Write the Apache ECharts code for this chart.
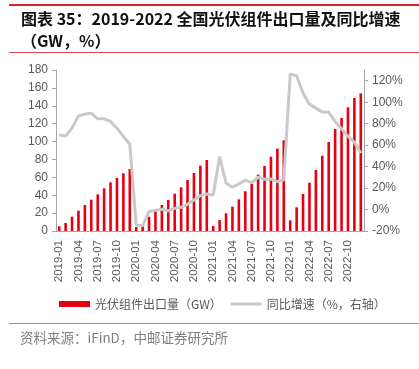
<!DOCTYPE html>
<html><head><meta charset="utf-8">
<script src="https://cdn.jsdelivr.net/npm/echarts@6/dist/echarts.min.js"></script>
<style>html,body{margin:0;padding:0;background:#fff}#c{width:419px;height:369px}</style>
</head><body><div id="c"></div>
<script>
const months = [];
for (const y of [2019, 2020, 2021, 2022]) for (let m = 1; m <= 12; m++) months.push(y + '-' + String(m).padStart(2, '0'));

const exportGW = [
  5.2, 8.9, 16.0, 22.7, 29.1, 35.0, 41.0, 47.7, 54.4, 59.3, 64.5, 69.3,
  4.5, 6.5, 16.0, 22.4, 29.1, 34.7, 41.7, 48.8, 57.0, 64.9, 73.1, 79.4,
  5.6, 12.3, 19.8, 27.2, 35.4, 44.4, 52.6, 63.0, 72.7, 83.1, 92.1, 101.4,
  11.9, 26.5, 41.4, 54.0, 68.2, 84.2, 99.5, 114.0, 126.3, 138.3, 148.7, 153.9
];
const yoyPct = [
  69.6, 68.4, 75.8, 87.3, 88.9, 89.8, 84.5, 84.5, 82.1, 75.8, 68.1, 60.9,
  -14.4, -15.0, -2.0, -0.7, 0.2, -1.3, 1.2, 2.1, 4.9, 8.9, 13.0, 14.5,
  13.6, 49.4, 24.5, 20.8, 23.9, 27.3, 25.1, 30.1, 28.2, 28.5, 26.0, 27.6,
  126.2, 124.7, 108.5, 98.2, 94.5, 90.8, 90.8, 82.1, 75.2, 68.1, 62.8, 52.5
];

const titleLine1 = '图表 35：2019-2022 全国光伏组件出口量及同比增速';
const titleLine2 = '（GW，%）';
const sourceText = '资料来源：iFinD，中邮证券研究所';
const barName = '光伏组件出口量（GW）';
const lineName = '同比增速（%，右轴）';

const axisGrey = '#a6a6a6';
const labelGrey = '#595959';
const chart = echarts.init(document.getElementById('c'), null, {renderer: 'canvas'});
chart.setOption({
  animation: false,
  textStyle: {fontFamily: 'Liberation Sans, Arial, Noto Sans CJK SC, sans-serif'},
  graphic: [
    {type: 'rect', shape: {x: 9, y: 4, width: 410, height: 2}, style: {fill: '#d9252a'}},
    {type: 'text', left: 21, top: 11, style: {text: titleLine1, font: 'bold 16px "Noto Sans CJK SC"', fill: '#111'}},
    {type: 'text', left: 21, top: 33, style: {text: titleLine2, font: 'bold 16px "Noto Sans CJK SC"', fill: '#111'}},
    {type: 'rect', shape: {x: 9, y: 52, width: 410, height: 1}, style: {fill: '#d9454a'}},
    {type: 'rect', shape: {x: 9, y: 323, width: 410, height: 1}, style: {fill: '#e07b7b'}},
    {type: 'text', left: 20, top: 331, style: {text: sourceText, font: '13.5px "Noto Sans CJK SC"', fill: '#7f7f7f'}}
  ],
  legend: {
    left: 54, top: 293, itemGap: 9, itemWidth: 31, itemHeight: 6,
    textStyle: {fontSize: 12, color: labelGrey, fontFamily: 'Noto Sans CJK SC'},
    data: [
      {name: barName, icon: 'rect'},
      {name: lineName, icon: 'path://M0,0L0,0ZM0,6L0,6ZM0,1.6H31V4.4H0Z', itemStyle: {color: '#c9c9c9'}}
    ]
  },
  grid: {left: 56, right: 55, top: 70, bottom: 138, containLabel: false},
  xAxis: {
    type: 'category', data: months, boundaryGap: true,
    axisLine: {lineStyle: {color: axisGrey}},
    axisTick: {interval: 2, length: 4, lineStyle: {color: axisGrey}},
    axisLabel: {interval: 2, rotate: 90, fontSize: 11.5, color: labelGrey, margin: 9}
  },
  yAxis: [
    {type: 'value', min: 0, max: 180, interval: 20,
     axisLine: {show: true, lineStyle: {color: axisGrey}},
     axisTick: {show: true, length: 4, lineStyle: {color: axisGrey}},
     splitLine: {show: false},
     axisLabel: {fontSize: 12, color: labelGrey, margin: 8}},
    {type: 'value', min: -20, max: 130, interval: 20, position: 'right',
     axisLine: {show: true, lineStyle: {color: axisGrey}},
     axisTick: {show: true, length: 4, lineStyle: {color: axisGrey}},
     splitLine: {show: false},
     axisLabel: {fontSize: 12, color: labelGrey, margin: 8, showMaxLabel: false, formatter: v => v + '%'}}
  ],
  series: [
    {name: barName, type: 'bar', yAxisIndex: 0, data: exportGW, barWidth: 2.6,
     itemStyle: {color: '#e60012'}},
    {name: lineName, type: 'line', yAxisIndex: 1, data: yoyPct, symbol: 'none', smooth: false,
     lineStyle: {color: '#c9c9c9', width: 3}, itemStyle: {color: '#c9c9c9'}, z: 3}
  ]
});
</script></body></html>
